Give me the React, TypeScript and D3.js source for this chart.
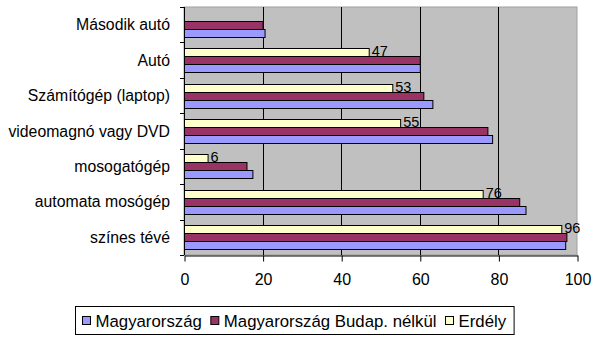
import React, { useEffect, useRef } from "react"
import * as d3 from "d3"

const categories = [
  "Második autó",
  "Autó",
  "Számítógép (laptop)",
  "videomagnó vagy DVD",
  "mosogatógép",
  "automata mosógép",
  "színes tévé",
]

const seriesNames = ["Magyarország", "Magyarország Budap. nélkül", "Erdély"]

const magyarorszag = [20.5, 60, 63.2, 78.4, 17.4, 86.9, 97]
const budapNelkul = [20, 60, 60.9, 77.2, 15.9, 85.3, 97.3]
const erdely = [null, 47, 53, 55, 6, 76, 96]

const xTicks = [0, 20, 40, 60, 80, 100]

const colors = ["#9999FF", "#993366", "#FFFFCC"]

const width = 606
const height = 353

const App = () => {
  const ref = useRef<SVGGElement>(null)

  useEffect(() => {
    document.body.style.margin = "0"
    const g = d3.select(ref.current)
    g.selectAll("*").remove()

    const margin = { top: 7, right: 29, bottom: 98, left: 184 }
    const innerWidth = width - margin.left - margin.right
    const innerHeight = height - margin.top - margin.bottom

    const values = [magyarorszag, budapNelkul, erdely]

    const xScale = d3.scaleLinear().domain([0, 100]).range([0, innerWidth])

    const yScale = d3.scaleBand<string>()
      .domain(categories)
      .range([0, innerHeight])

    // Excel draws the last series on top inside each group
    const ySub = d3.scaleBand<string>()
      .domain(["2", "1", "0"])
      .range([0, yScale.bandwidth()])
      .paddingOuter(0.71)

    const plot = g.append("g")
      .attr("transform", `translate(${margin.left}, ${margin.top})`)

    plot.append("rect")
      .attr("width", innerWidth)
      .attr("height", innerHeight)
      .attr("fill", "#C0C0C0")
      .attr("stroke", "#A0A0A0")
      .attr("stroke-width", 1)

    plot.selectAll(".grid")
      .data(xTicks.slice(1, -1))
      .enter().append("line")
        .attr("x1", d => Math.round(xScale(d)) + 0.5)
        .attr("x2", d => Math.round(xScale(d)) + 0.5)
        .attr("y1", 0)
        .attr("y2", innerHeight)
        .attr("stroke", "#000")

    values.forEach((vals, si) => {
      plot.selectAll(`.bar${si}`)
        .data(categories.map((c, i) => ({ c, v: vals[i] })).filter(d => d.v != null))
        .enter().append("rect")
          .attr("x", 0.5)
          .attr("y", d => Math.round(yScale(d.c)! + ySub(String(si))!) + 0.5)
          .attr("width", d => xScale(d.v as number))
          .attr("height", Math.round(ySub.bandwidth()))
          .attr("fill", colors[si])
          .attr("stroke", "#000")
          .attr("stroke-width", 1)
    })

    plot.selectAll(".lbl")
      .data(categories.map((c, i) => ({ c, v: erdely[i] })).filter(d => d.v != null))
      .enter().append("text")
        .attr("x", d => xScale(d.v as number) + 3)
        .attr("y", d => yScale(d.c)! + ySub("2")! + ySub.bandwidth() / 2 - 1)
        .attr("dominant-baseline", "central")
        .attr("font-family", "Liberation Sans, Arial, sans-serif")
        .attr("font-size", 14.5)
        .attr("fill", "#000")
        .text(d => String(d.v))

    // y axis
    const yAxisG = plot.append("g")
    yAxisG.append("line")
      .attr("x1", 0.5).attr("x2", 0.5)
      .attr("y1", 0).attr("y2", innerHeight)
      .attr("stroke", "#000")
    yAxisG.selectAll(".tick")
      .data(d3.range(categories.length + 1))
      .enter().append("line")
        .attr("x1", -4).attr("x2", 0)
        .attr("y1", d => Math.round(d * yScale.step()) + 0.5)
        .attr("y2", d => Math.round(d * yScale.step()) + 0.5)
        .attr("stroke", "#000")
    yAxisG.selectAll("text")
      .data(categories)
      .enter().append("text")
        .attr("x", -14)
        .attr("y", d => yScale(d)! + yScale.bandwidth() / 2)
        .attr("dominant-baseline", "central")
        .attr("text-anchor", "end")
        .attr("font-family", "Liberation Sans, Arial, sans-serif")
        .attr("font-size", 15.8)
        .attr("fill", "#000")
        .text(d => d)

    // x axis
    const xAxis = d3.axisBottom(xScale)
      .tickValues(xTicks)
      .tickSize(6)
      .tickPadding(12)
      .tickSizeOuter(0)
    const xAxisG = plot.append("g")
      .attr("transform", `translate(0.5, ${innerHeight + 0.5})`)
      .call(xAxis)
    xAxisG.select(".domain").attr("stroke", "#000")
    xAxisG.selectAll("line").attr("stroke", "#000")
    xAxisG.selectAll("text")
      .attr("font-family", "Liberation Sans, Arial, sans-serif")
      .attr("font-size", 16)
      .attr("fill", "#000")

    // legend
    const legend = g.append("g").attr("transform", `translate(75.5, 306.5)`)
    const box = legend.append("rect")
      .attr("height", 28)
      .attr("fill", "#fff")
      .attr("stroke", "#000")
    let x = 7
    seriesNames.forEach((name, i) => {
      legend.append("rect")
        .attr("x", x)
        .attr("y", 10)
        .attr("width", 8)
        .attr("height", 8)
        .attr("fill", colors[i])
        .attr("stroke", "#000")
      const t = legend.append("text")
        .attr("x", x + 13)
        .attr("y", 14.5)
        .attr("dominant-baseline", "central")
        .attr("font-family", "Liberation Sans, Arial, sans-serif")
        .attr("font-size", 16.8)
        .attr("fill", "#000")
        .text(name)
      const w = (t.node() as SVGTextElement).getComputedTextLength()
      x += 13 + w + 9
    })
    box.attr("width", x - 1)
  }, [])

  return (
    <div>
      <svg width={width} height={height} style={{ display: "block" }}>
        <rect width={width} height={height} fill="#fff" />
        <g ref={ref} />
      </svg>
    </div>
  )
}

export default App
